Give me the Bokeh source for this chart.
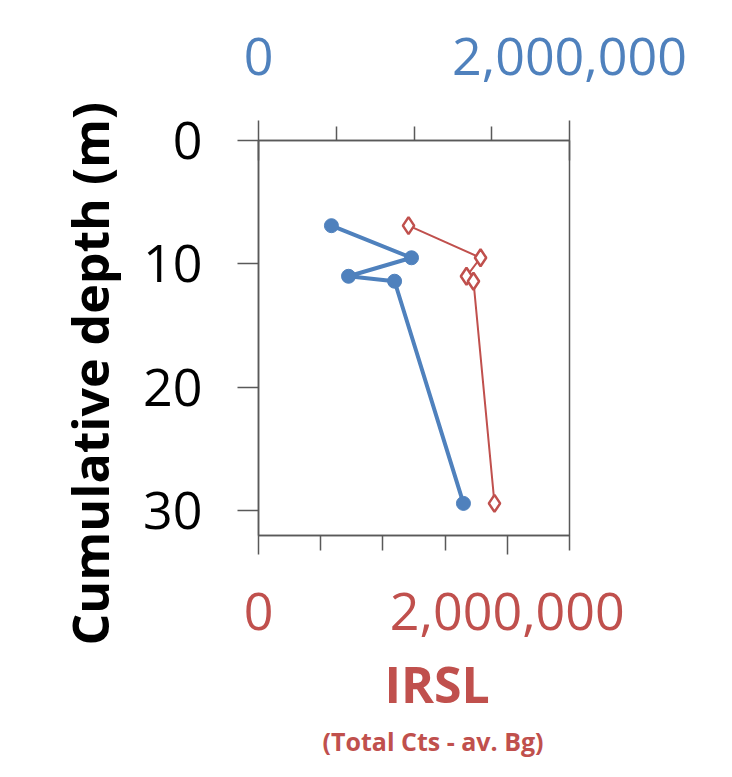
from bokeh.plotting import figure
from bokeh.models import (Range1d, LinearAxis, FixedTicker, NumeralTickFormatter, Title)
from bokeh.embed import file_html
from bokeh.resources import INLINE

# ---- data ----
depth_m = [6.9, 9.5, 11.0, 11.4, 29.4]
blue_series = [469000, 984000, 579000, 875000, 1318000]      # top axis
irsl_series = [1206000, 1785000, 1672000, 1728000, 1897000]  # bottom axis (IRSL)

y_ticks = [0, 10, 20, 30]
top_major = [0, 2000000]
top_minor = [500000, 1000000, 1500000]
bot_major = [0, 2000000]
bot_minor = [500000, 1000000, 1500000, 2500000]

BLUE = "#4F81BD"
RED = "#C0504D"
AX = "#595959"
FONT = "Open Sans"

p = figure(width=730, height=775, output_backend="svg", toolbar_location=None,
           x_range=Range1d(0, 2500000), y_range=Range1d(32, 0),
           x_axis_location=None, y_axis_location=None,
           min_border_left=258, min_border_right=161,
           min_border_top=140, min_border_bottom=240)
p.extra_x_ranges = {"top": Range1d(0, 2000000)}
p.grid.visible = False
p.outline_line_color = AX
p.outline_line_width = 1.5
p.background_fill_color = "white"
p.border_fill_color = "white"

# left axis
ya = LinearAxis(ticker=FixedTicker(ticks=y_ticks, minor_ticks=[]))
ya.axis_line_color = AX
ya.axis_line_width = 1.5
ya.major_tick_line_color = AX
ya.major_tick_line_width = 1.5
ya.major_tick_out = 21
ya.major_tick_in = 0
ya.minor_tick_line_color = None
ya.major_label_text_font = FONT
ya.major_label_text_font_size = "52px"
ya.major_label_text_color = "black"
ya.major_label_standoff = 35
p.add_layout(ya, "left")

# top axis (blue)
ta = LinearAxis(x_range_name="top",
                ticker=FixedTicker(ticks=top_major, minor_ticks=top_minor),
                formatter=NumeralTickFormatter(format="0,0"))
ta.axis_line_color = AX
ta.axis_line_width = 1.5
ta.major_tick_line_color = AX
ta.major_tick_line_width = 1.5
ta.major_tick_out = 20
ta.major_tick_in = 20
ta.minor_tick_line_color = AX
ta.minor_tick_line_width = 1.5
ta.minor_tick_out = 14
ta.minor_tick_in = 0
ta.major_label_text_font = FONT
ta.major_label_text_font_size = "52px"
ta.major_label_text_color = BLUE
ta.major_label_standoff = 46
p.add_layout(ta, "above")

# bottom axis (red)
ba = LinearAxis(ticker=FixedTicker(ticks=bot_major, minor_ticks=bot_minor),
                formatter=NumeralTickFormatter(format="0,0"))
ba.axis_line_color = AX
ba.axis_line_width = 1.5
ba.major_tick_line_color = AX
ba.major_tick_line_width = 1.5
ba.major_tick_out = 19
ba.major_tick_in = 0
ba.minor_tick_line_color = AX
ba.minor_tick_line_width = 1.5
ba.minor_tick_out = 15
ba.minor_tick_in = 0
ba.major_label_text_font = FONT
ba.major_label_text_font_size = "52px"
ba.major_label_text_color = RED
ba.major_label_standoff = 38
p.add_layout(ba, "below")

# series
p.line(blue_series, depth_m, x_range_name="top", line_color=BLUE, line_width=4)
p.scatter(blue_series, depth_m, x_range_name="top", marker="circle", size=14,
          fill_color=BLUE, line_color=BLUE)
p.line(irsl_series, depth_m, line_color=RED, line_width=2)
p.scatter(irsl_series, depth_m, marker="diamond", size=17,
          fill_color="white", line_color=RED, line_width=2.5)

# titles
p.add_layout(Title(text="Cumulative depth (m)", text_font=FONT, text_font_style="bold",
                   text_font_size="50px", text_color="black", align="left",
                   offset=-110, standoff=34), "left")
p.add_layout(Title(text="IRSL", text_font=FONT, text_font_style="bold",
                   text_font_size="50px", text_color=RED, align="left",
                   offset=126, standoff=31), "below")
p.add_layout(Title(text="(Total Cts - av. Bg)", text_font=FONT, text_font_style="bold",
                   text_font_size="25px", text_color=RED, align="left",
                   offset=64, standoff=-23), "below")

open("out.html", "w").write(file_html(p, INLINE))
